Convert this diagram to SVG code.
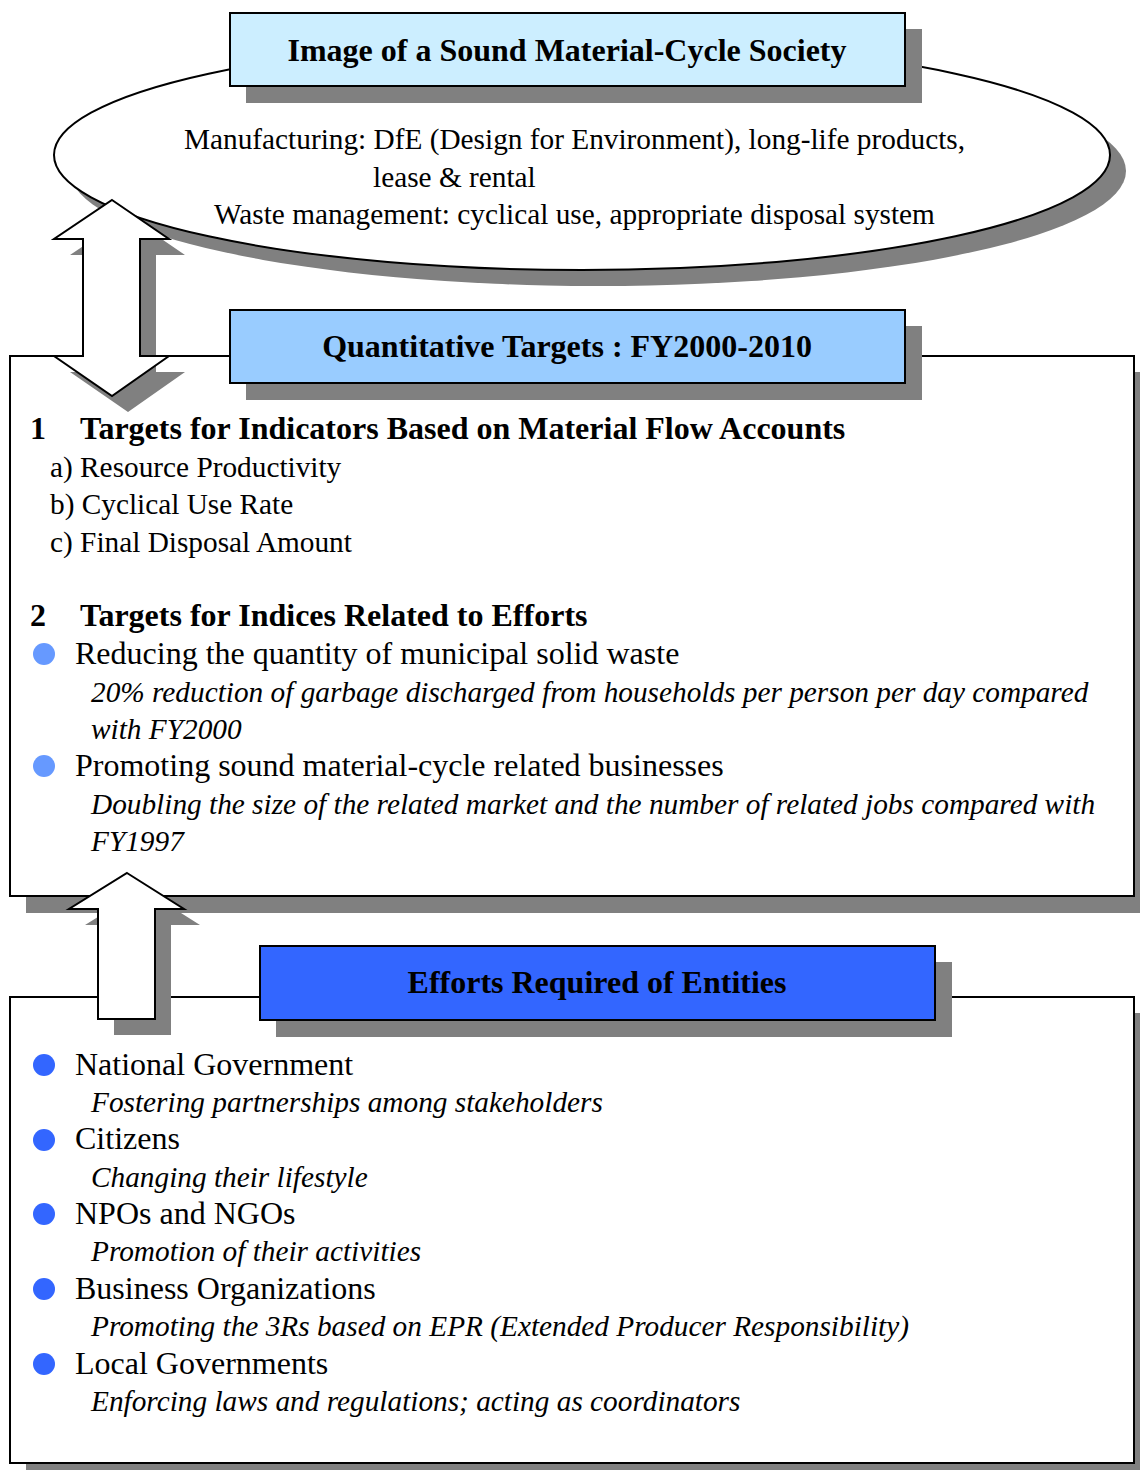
<svg xmlns="http://www.w3.org/2000/svg" width="1140" height="1470" viewBox="0 0 1140 1470">
<style>
.sh{fill:#808080}
.ln{stroke:#000;stroke-width:2}
.t{font-family:"Liberation Serif","Times New Roman",serif;fill:#000}
.b{font-weight:bold;font-size:32px}
.r{font-size:32px}
.s{font-size:29.3px}
.i{font-size:29.3px;font-style:italic}
.c{text-anchor:middle}
.dot1{fill:#6699FF}
.dot2{fill:#3366FF}
</style>
<rect width="1140" height="1470" fill="#fff"/>
<g id="society">
<ellipse class="sh" cx="598" cy="171" rx="528" ry="115"/>
<ellipse class="ln" cx="582" cy="155" rx="528" ry="115" fill="#fff"/>
<text class="t s" x="184" y="149">Manufacturing: DfE (Design for Environment), long-life products,</text>
<text class="t s" x="373" y="187">lease &amp; rental</text>
<text class="t s" x="214" y="224">Waste management: cyclical use, appropriate disposal system</text>
<rect class="sh" x="246" y="29" width="676" height="74"/>
<rect class="ln" x="230" y="13" width="675" height="73" fill="#CCEEFF"/>
<text class="t b c" x="567" y="61">Image of a Sound Material-Cycle Society</text>
</g>
<g id="targets">
<rect class="sh" x="26" y="372" width="1124" height="541"/>
<rect class="ln" x="10" y="356" width="1124" height="540" fill="#fff"/>
<rect class="sh" x="246" y="326" width="676" height="74"/>
<rect class="ln" x="230" y="310" width="675" height="73" fill="#99CCFF"/>
<text class="t b c" x="567" y="357">Quantitative Targets : FY2000-2010</text>
<text class="t b" x="30" y="439">1</text>
<text class="t b" x="80" y="439">Targets for Indicators Based on Material Flow Accounts</text>
<text class="t s" x="50" y="477">a) Resource Productivity</text>
<text class="t s" x="50" y="514">b) Cyclical Use Rate</text>
<text class="t s" x="50" y="552">c) Final Disposal Amount</text>
<text class="t b" x="30" y="626">2</text>
<text class="t b" x="80" y="626">Targets for Indices Related to Efforts</text>
<circle class="dot1" cx="44" cy="654" r="11"/>
<text class="t r" x="75" y="664">Reducing the quantity of municipal solid waste</text>
<text class="t i" x="91" y="702">20% reduction of garbage discharged from households per person per day compared</text>
<text class="t i" x="91" y="739">with FY2000</text>
<circle class="dot1" cx="44" cy="766" r="11"/>
<text class="t r" x="75" y="776">Promoting sound material-cycle related businesses</text>
<text class="t i" x="91" y="814">Doubling the size of the related market and the number of related jobs compared with</text>
<text class="t i" x="91" y="851">FY1997</text>
</g>
<g id="efforts">
<rect class="sh" x="26" y="1013" width="1124" height="467"/>
<rect class="ln" x="10" y="997" width="1124" height="466" fill="#fff"/>
<rect class="sh" x="276" y="962" width="676" height="75"/>
<rect class="ln" x="260" y="946" width="675" height="74" fill="#3366FF"/>
<text class="t b c" x="597" y="993">Efforts Required of Entities</text>
<circle class="dot2" cx="44" cy="1065" r="11"/>
<text class="t r" x="75" y="1075">National Government</text>
<text class="t i" x="91" y="1112">Fostering partnerships among stakeholders</text>
<circle class="dot2" cx="44" cy="1140" r="11"/>
<text class="t r" x="75" y="1149">Citizens</text>
<text class="t i" x="91" y="1187">Changing their lifestyle</text>
<circle class="dot2" cx="44" cy="1214" r="11"/>
<text class="t r" x="75" y="1224">NPOs and NGOs</text>
<text class="t i" x="91" y="1261">Promotion of their activities</text>
<circle class="dot2" cx="44" cy="1289" r="11"/>
<text class="t r" x="75" y="1299">Business Organizations</text>
<text class="t i" x="91" y="1336">Promoting the 3Rs based on EPR (Extended Producer Responsibility)</text>
<circle class="dot2" cx="44" cy="1364" r="11"/>
<text class="t r" x="75" y="1374">Local Governments</text>
<text class="t i" x="91" y="1411">Enforcing laws and regulations; acting as coordinators</text>
</g>
<g id="connectors">
<polygon class="sh" points="128,216 185,255 156,255 156,372 185,372 128,412 70,372 99,372 99,255 70,255"/>
<polygon class="ln" points="112,200 169,239 140,239 140,356 169,356 112,396 54,356 83,356 83,239 54,239" fill="#fff"/>
<polygon class="sh" points="143,889 200,925 171,925 171,1035 114,1035 114,925 85,925"/>
<polygon class="ln" points="127,873 184,909 155,909 155,1019 98,1019 98,909 69,909" fill="#fff"/>
</g>
</svg>
